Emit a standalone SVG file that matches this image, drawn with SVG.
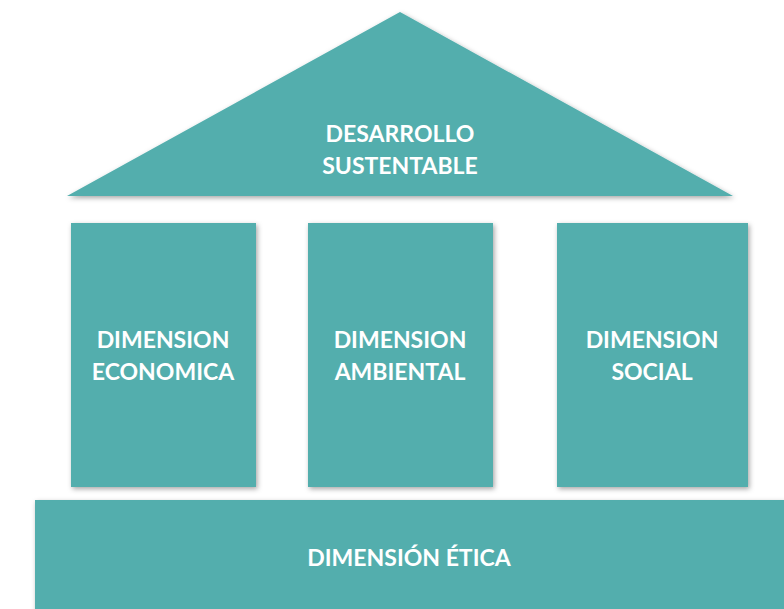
<svg xmlns="http://www.w3.org/2000/svg" width="784" height="609" viewBox="0 0 784 609">
<defs>
<filter id="sh" x="-10%" y="-10%" width="120%" height="120%">
<feDropShadow dx="1.5" dy="2" stdDeviation="2.5" flood-color="#000" flood-opacity="0.35"/>
</filter>
<style>
.s{fill:#52AEAD;filter:url(#sh)}
.t{fill:#fff;font-family:Lato,"Open Sans",sans-serif;font-weight:bold;font-size:23px;text-anchor:middle}
</style>
</defs>
<rect width="784" height="609" fill="#fff"/>
<g id="roof">
<polygon class="s" points="400,12 733,196 67,196"/>
<text class="t" x="400" y="142">DESARROLLO</text>
<text class="t" x="400" y="174">SUSTENTABLE</text>
</g>
<g id="economica">
<rect class="s" x="71" y="223" width="185" height="264"/>
<text class="t" x="163" y="348">DIMENSION</text>
<text class="t" x="163" y="380">ECONOMICA</text>
</g>
<g id="ambiental">
<rect class="s" x="308" y="223" width="185" height="264"/>
<text class="t" x="400" y="348">DIMENSION</text>
<text class="t" x="400" y="380">AMBIENTAL</text>
</g>
<g id="social">
<rect class="s" x="557" y="223" width="191" height="264"/>
<text class="t" x="652" y="348">DIMENSION</text>
<text class="t" x="652" y="380">SOCIAL</text>
</g>
<g id="etica">
<rect class="s" x="35" y="500" width="760" height="120"/>
<text class="t" x="409" y="566">DIMENSIÓN ÉTICA</text>
</g>
<g id="connectors"/>
</svg>
